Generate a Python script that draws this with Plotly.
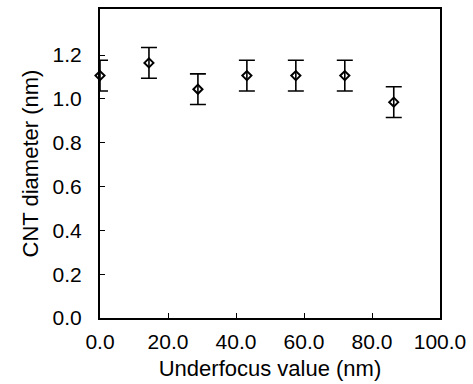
import plotly.graph_objects as go

underfocus = [0.0, 14.4, 28.8, 43.2, 57.6, 72.0, 86.4]
diameter = [1.106, 1.164, 1.044, 1.106, 1.106, 1.106, 0.985]
error = [0.07, 0.07, 0.07, 0.07, 0.07, 0.07, 0.07]

x_ticks = [0, 20, 40, 60, 80, 100]
y_ticks = [0.0, 0.2, 0.4, 0.6, 0.8, 1.0, 1.2]

fig = go.Figure()
fig.add_trace(go.Scatter(
    x=underfocus, y=diameter, mode="markers",
    marker=dict(symbol="diamond-open", size=7, color="black", line=dict(width=2, color="black")),
    error_y=dict(type="data", array=error, visible=True, color="black", thickness=1.6, width=8),
    cliponaxis=False, showlegend=False,
))

font = "Liberation Sans, Arial, Helvetica, sans-serif"
fig.update_layout(
    width=473, height=384,
    margin=dict(l=100, r=33, t=7, b=66),
    paper_bgcolor="white", plot_bgcolor="white",
    font=dict(family=font, color="black"),
)
fig.update_xaxes(
    range=[0, 100], tickvals=x_ticks, ticktext=[f"{v:.1f}" for v in x_ticks],
    ticks="inside", ticklen=5, tickwidth=1.2, tickcolor="black",
    showline=True, linewidth=2, linecolor="black", mirror=True,
    showgrid=False, zeroline=False,
    tickfont=dict(size=21), ticklabelstandoff=4,
    title=dict(text="Underfocus value (nm)", font=dict(size=22), standoff=8),
)
fig.update_yaxes(
    range=[0, 1.41], tickvals=y_ticks, ticktext=[f"{v:.1f}" for v in y_ticks],
    ticks="inside", ticklen=5, tickwidth=1.2, tickcolor="black",
    showline=True, linewidth=2, linecolor="black", mirror=True,
    showgrid=False, zeroline=False,
    tickfont=dict(size=21), ticklabelstandoff=12,
    title=dict(text="CNT diameter (nm)", font=dict(size=22), standoff=8),
)
fig.write_html("out.html")
